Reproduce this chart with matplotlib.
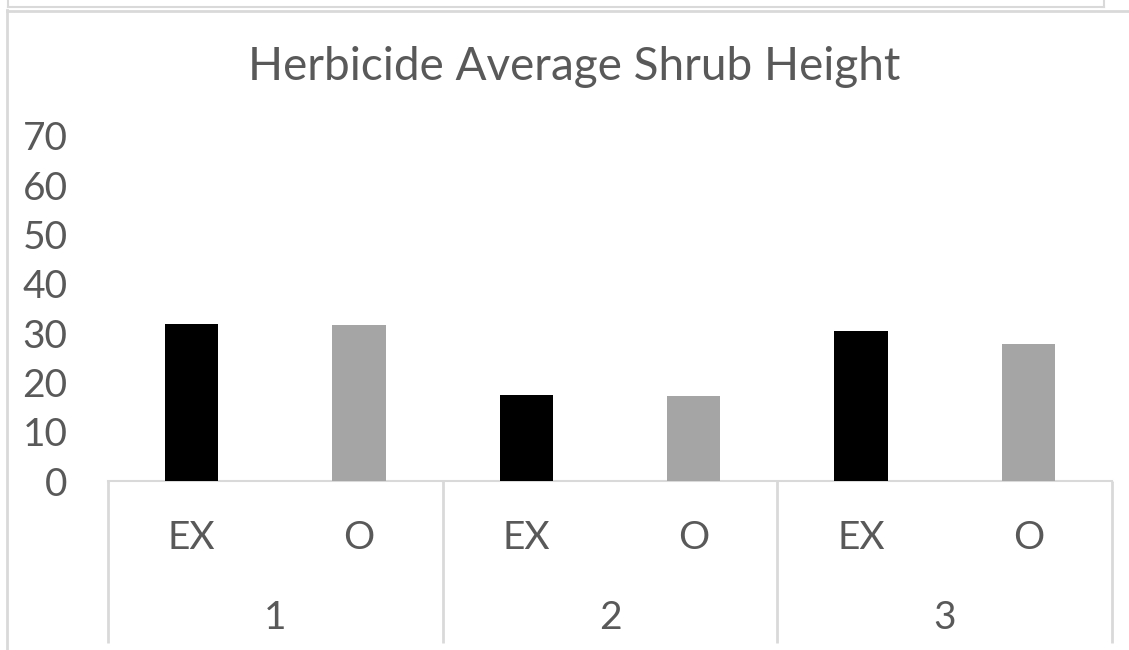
import matplotlib
matplotlib.use("Agg")
import matplotlib.pyplot as plt
import numpy as np

# data
groups = ["1", "2", "3"]
treatments = ["EX", "O"]
heights = [31.9, 31.6, 17.4, 17.2, 30.4, 27.8]
bar_colors = ["#000000", "#a5a5a5"]
yticks = [0, 10, 20, 30, 40, 50, 60, 70]

TXT = "#595959"
LINE = "#d9d9d9"
W, H = 1129, 650

plt.rcParams['font.family'] = ['Lato', 'DejaVu Sans']

fig = plt.figure(figsize=(W / 100, H / 100), dpi=100)
# plot area in pixels: x 108..1112, y 136..481
ax = fig.add_axes([108 / W, (H - 481) / H, 1004 / W, 345 / H])

n = len(groups) * len(treatments)
x = np.arange(n)
colors = [bar_colors[i % len(treatments)] for i in range(n)]
ax.bar(x, heights, width=0.32, color=colors, zorder=3)

ax.set_xlim(-0.5, n - 0.5)
ax.set_ylim(0, 70)
ax.set_yticks(yticks)
ax.set_yticklabels([str(v) for v in yticks], color=TXT, fontsize=28)
ax.tick_params(axis='y', length=0, pad=29)
ax.set_xticks([])

for s in ["top", "right", "left"]:
    ax.spines[s].set_visible(False)
ax.spines["bottom"].set_color(LINE)
ax.spines["bottom"].set_linewidth(1.5)

tr = ax.get_xaxis_transform()
# inner level labels
for i in range(n):
    ax.text(x[i], (481 - 549) / 345, treatments[i % len(treatments)], transform=tr,
            ha='center', va='baseline', color=TXT, fontsize=28)
# outer level labels and separators
k = len(treatments)
for g, name in enumerate(groups):
    ax.text(g * k + (k - 1) / 2, (481 - 629) / 345, name, transform=tr,
            ha='center', va='baseline', color=TXT, fontsize=28)
for b in np.arange(len(groups) + 1) * k - 0.5:
    ax.plot([b, b], [0, (481 - 643) / 345], transform=tr, color=LINE,
            lw=2, clip_on=False, solid_capstyle='butt')

# title
fig.text(574 / W, 1 - 80 / H, "Herbicide Average Shrub Height", ha='center',
         va='baseline', color=TXT, fontsize=33)

# chart frame remnants (screenshot borders)
fig.add_artist(plt.Line2D([7 / W, 7 / W], [0, 1 - 10 / H], color=LINE, lw=2))
fig.add_artist(plt.Line2D([7 / W, 1], [1 - 10.5 / H, 1 - 10.5 / H], color=LINE, lw=2))
fig.add_artist(plt.Line2D([8 / W, 1104 / W], [1 - 7 / H, 1 - 7 / H], color=LINE, lw=1.5))
fig.add_artist(plt.Line2D([8 / W, 8 / W], [1 - 7 / H, 1], color=LINE, lw=1.5))
fig.add_artist(plt.Line2D([1104 / W, 1104 / W], [1 - 7 / H, 1], color=LINE, lw=1.5))

fig.savefig("out.png", dpi=100)
